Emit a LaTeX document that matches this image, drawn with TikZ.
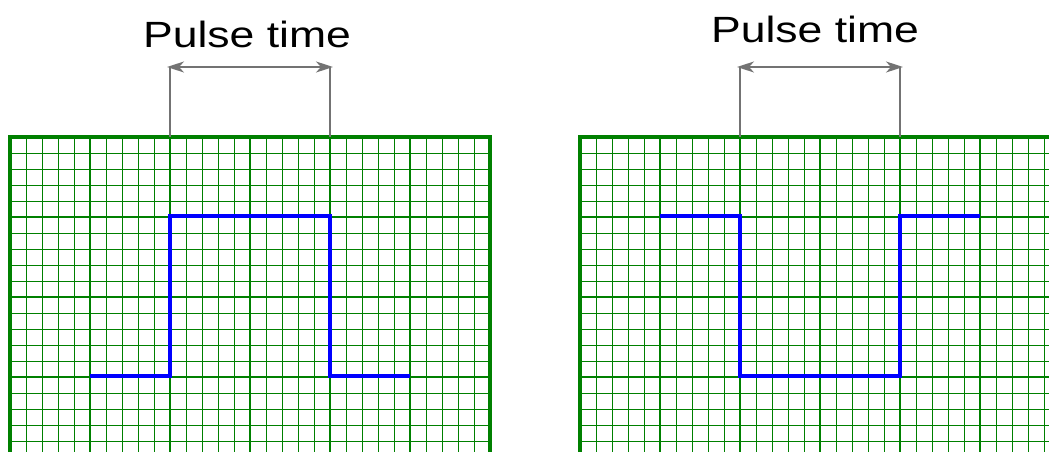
\documentclass[tikz,border=0pt]{standalone}
\usepackage{fontspec}
\setmainfont{Liberation Sans}
\usetikzlibrary{arrows.meta}

\begin{document}
\begin{tikzpicture}[
    x=1pt, y=-1pt,
    % --- Grid styles ---
    minor/.style={draw=green!50!black, line width=0.8pt},
    major/.style={draw=green!50!black, line width=1.8pt},
    gridframe/.style={draw=green!50!black, line width=4pt, line join=miter},
    % --- Signal and marker styles ---
    pulse/.style={draw=blue, line width=4.6pt, line join=miter},
    marker/.style={draw=black!55, line width=1.4pt},
    pulse span/.style={{Stealth[length=17pt,width=11pt,inset=5pt]}-{Stealth[length=17pt,width=11pt,inset=5pt]},
        draw=black!55, line width=2pt, shorten <=-3pt, shorten >=-3pt},
    caption/.style={font=\fontsize{36.5}{40}\selectfont, xscale=1.22, transform shape,
        inner sep=0pt, anchor=base},
]

\clip (0,0) rectangle (1049,452);

% === Oscilloscope grids (left at x=10, right at x=580) ===
\foreach \ox in {10,580} {
  \foreach \k in {0,...,30}
    \draw[minor] ({\ox+16*\k},137) -- ({\ox+16*\k},470);
  \foreach \j in {0,...,20}
    \draw[minor] (\ox,{137+16*\j}) -- ({\ox+480},{137+16*\j});
  \foreach \k in {1,...,5}
    \draw[major] ({\ox+80*\k},137) -- ({\ox+80*\k},470);
  \foreach \j in {1,...,4}
    \draw[major] (\ox,{137+80*\j}) -- ({\ox+480},{137+80*\j});
  \draw[gridframe] (\ox,470) -- (\ox,137) -- ({\ox+480},137) -- ({\ox+480},470);
}

% === Signals ===
% Positive pulse
\draw[pulse] (90,376) -- (170,376) -- (170,216) -- (330,216) -- (330,376) -- (410,376);
% Negative pulse
\draw[pulse] (660,216) -- (740,216) -- (740,376) -- (900,376) -- (900,216) -- (980,216);

% === Pulse width markers ===
\coordinate (lfoot) at (170,137);
\coordinate (lstart) at (170,67);
\coordinate (rfootl) at (330,137);
\coordinate (lend) at (330,67);
\coordinate (rfoot) at (740,137);
\coordinate (rstart) at (740,67);
\coordinate (rfootr) at (900,137);
\coordinate (rend) at (900,67);

\draw[marker] (lfoot) -- (lstart);
\draw[marker] (rfootl) -- (lend);
\draw[marker] (rfoot) -- (rstart);
\draw[marker] (rfootr) -- (rend);
\draw[pulse span] (lstart) -- (lend);
\draw[pulse span] (rstart) -- (rend);

% --- Labels ---
\node[caption] (ltitle) at (247,48) {Pulse time};
\node[caption] (rtitle) at (815,43) {Pulse time};

\end{tikzpicture}
\end{document}
